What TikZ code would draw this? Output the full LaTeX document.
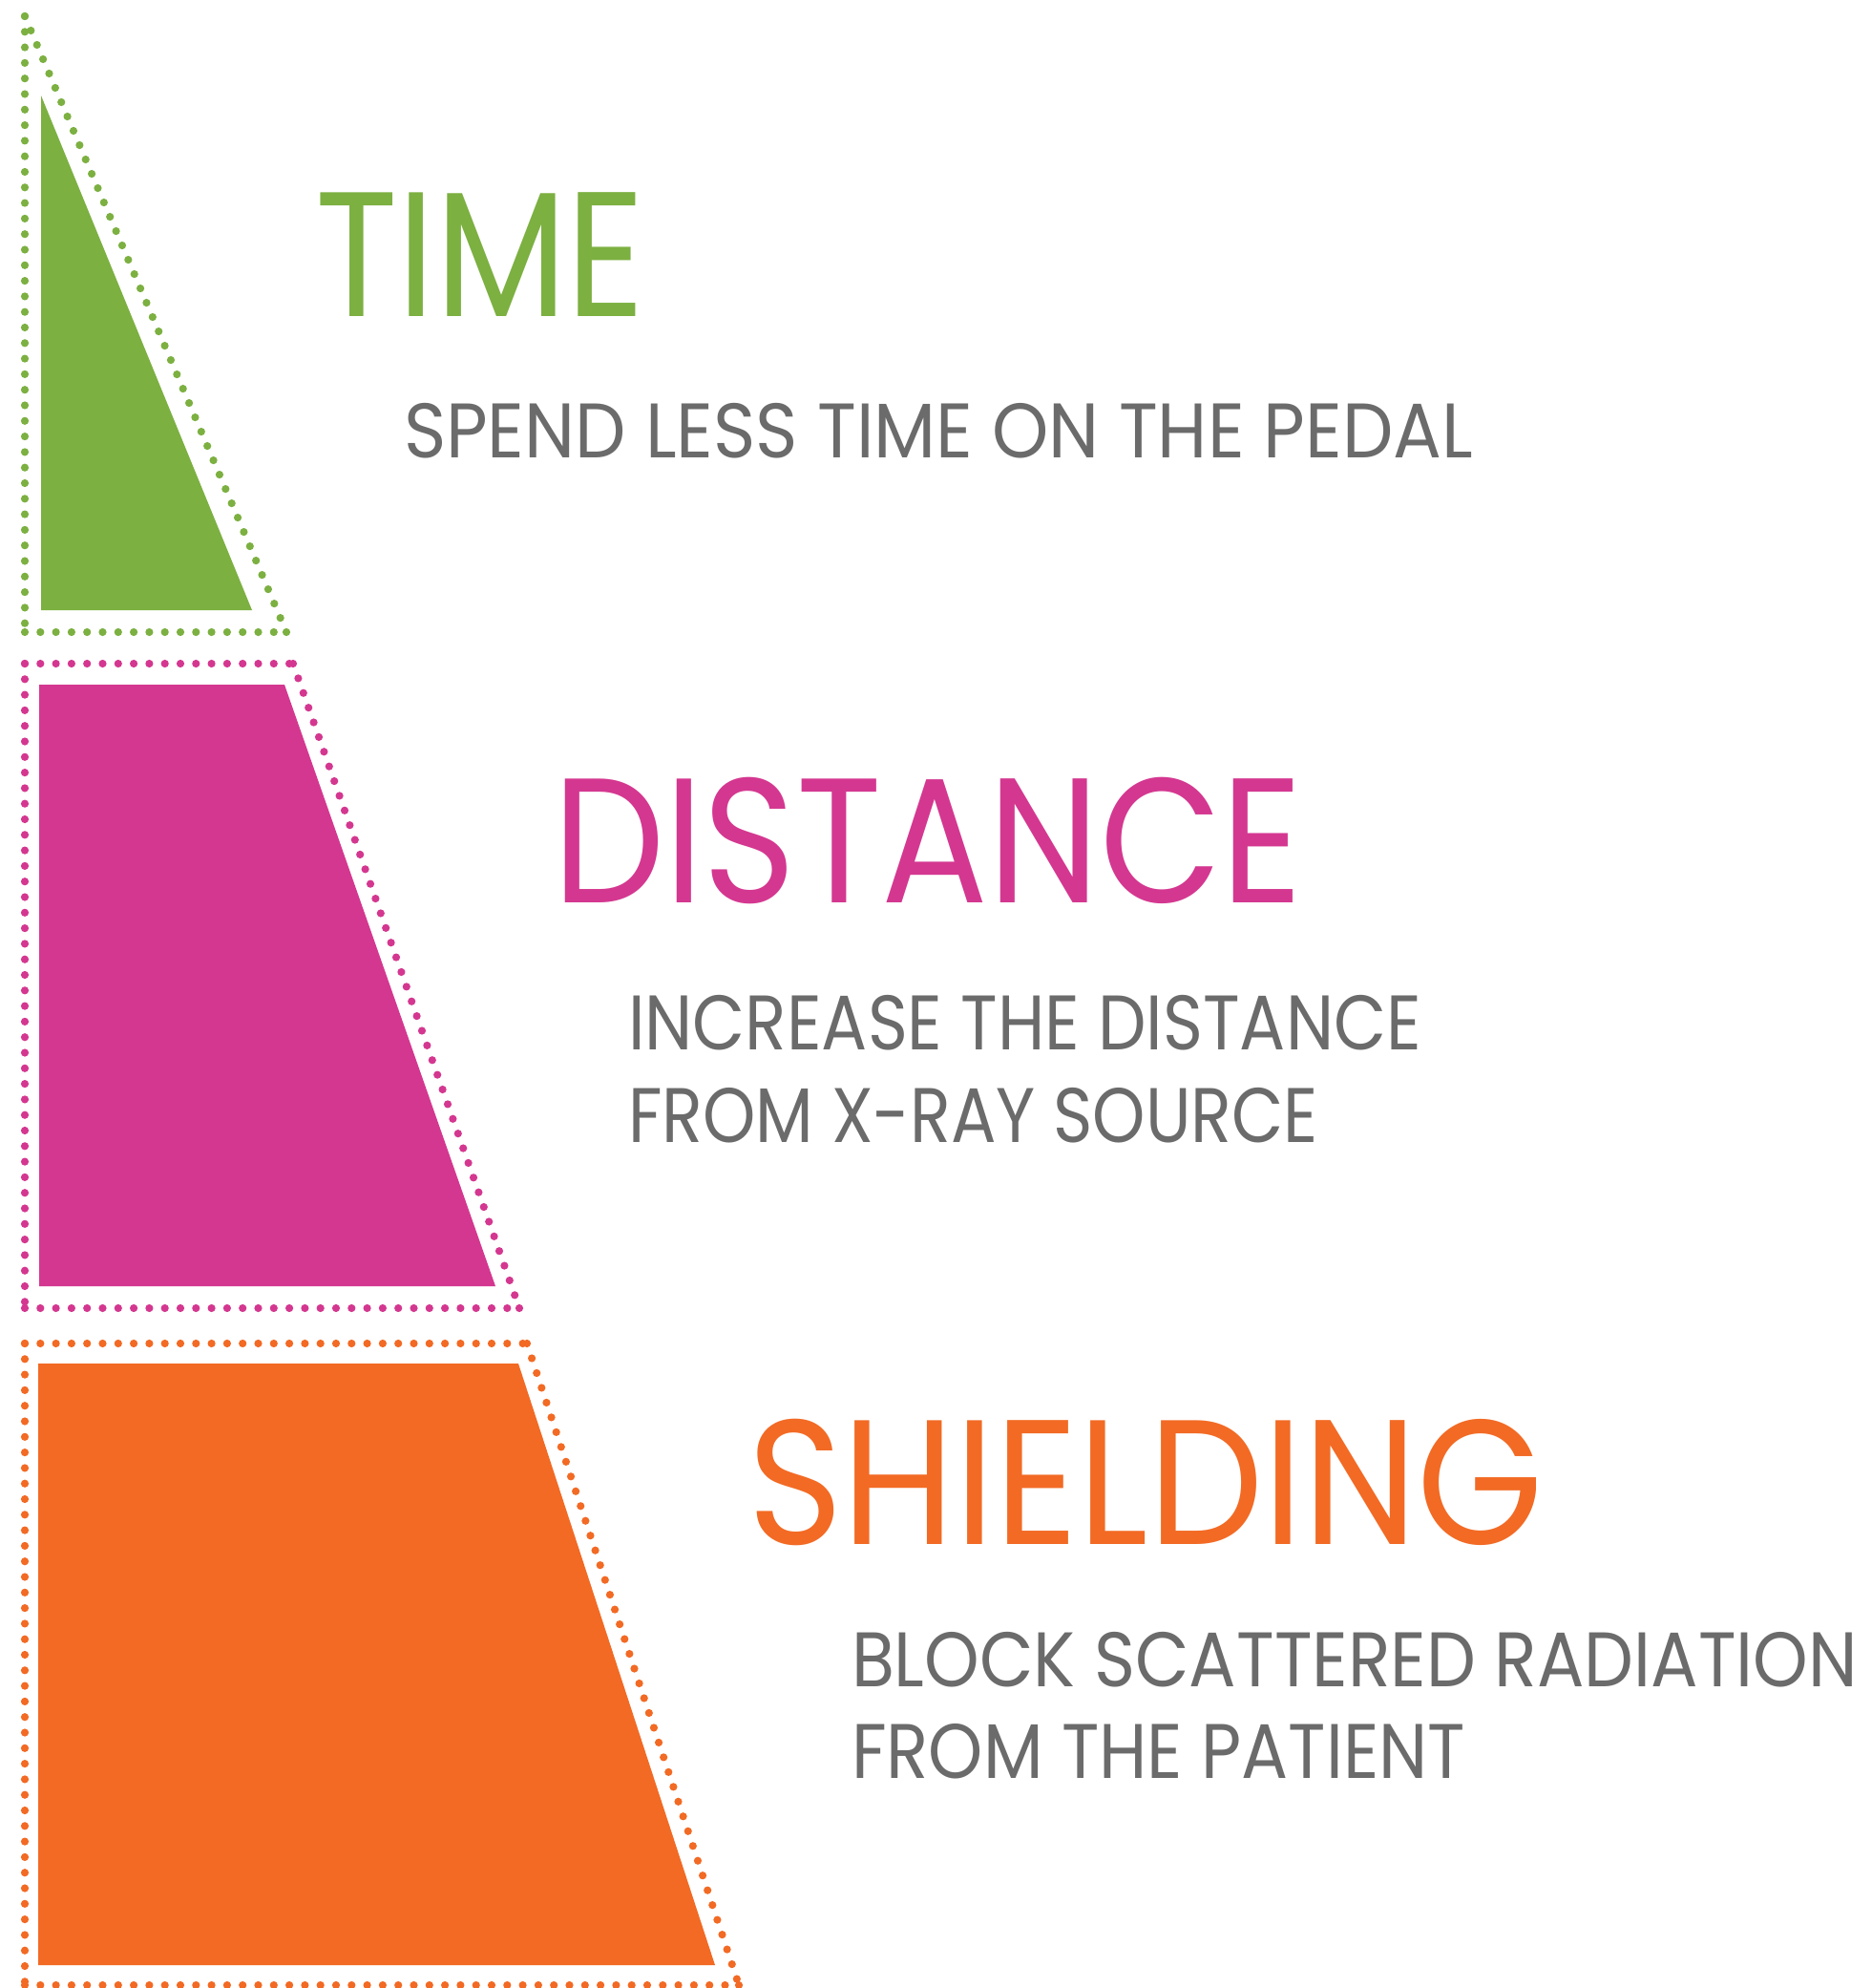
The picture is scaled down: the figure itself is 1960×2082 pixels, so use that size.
\documentclass[tikz,border=0pt]{standalone}
\usepackage{fontspec}
\setmainfont{Poppins}
\usepackage{graphicx}
\definecolor{tgreen}{RGB}{124,176,65}
\definecolor{tpink}{RGB}{212,55,144}
\definecolor{torange}{RGB}{242,106,36}
\definecolor{tgray}{RGB}{107,107,107}
\newcommand\fitw[2]{\resizebox{#1}{\height}{#2}}
\begin{document}
\begin{tikzpicture}[x=0.5pt,y=-0.5pt,
  dots/.style={line width=4.1pt, line cap=round, dash pattern=on 0pt off 8.15pt},
  cornerdot/.style={radius=2.05pt},
  title/.style={anchor=base west, inner sep=0pt, outer sep=0pt, font=\fontsize{93}{100}\selectfont},
  sub/.style={anchor=base west, inner sep=0pt, outer sep=0pt, font=\fontsize{40.5}{48}\selectfont, text=tgray}]
\useasboundingbox (0,0) rectangle (1960,2082);
\fill[white] (0,0) rectangle (1960,2082);
% TIME block
\fill[tgreen] (43,100) -- (43,639) -- (264,639) -- cycle;
\draw[dots,tgreen] (26,17) -- (26,662);
\draw[dots,tgreen] (26,662) -- (300,662);
\draw[dots,tgreen] (26,17) -- (300,662);
\fill[tgreen] (300,662) circle[cornerdot];
% DISTANCE block
\fill[tpink] (41,717) -- (298,717) -- (519,1347) -- (41,1347) -- cycle;
\draw[dots,tpink] (26,695) -- (307,695);
\draw[dots,tpink] (307,695) -- (544,1370);
\draw[dots,tpink] (26,1370) -- (544,1370);
\draw[dots,tpink] (26,695) -- (26,1370);
\fill[tpink] (544,1370) circle[cornerdot];
% SHIELDING block
\fill[torange] (40,1428) -- (543,1428) -- (749,2058) -- (40,2058) -- cycle;
\draw[dots,torange] (26,1407) -- (552,1407);
\draw[dots,torange] (552,1407) -- (774,2079);
\draw[dots,torange] (26,2079) -- (774,2079);
\draw[dots,torange] (26,1407) -- (26,2079);
\fill[torange] (774,2079) circle[cornerdot];
% texts
\node[title,text=tgreen] (time) at (330,331) {\fitw{173pt}{TIME}};
\node[sub] (timesub) at (423,479) {\fitw{560pt}{SPEND LESS TIME ON THE PEDAL}};
\node[title,text=tpink] (dist) at (579,945) {\fitw{393pt}{DISTANCE}};
\node[sub] (distsubA) at (658,1099) {\fitw{415.5pt}{INCREASE THE DISTANCE}};
\node[sub] (distsubB) at (658,1196) {\fitw{361.5pt}{FROM X-RAY SOURCE}};
\node[title,text=torange] (shield) at (783,1617) {\fitw{417pt}{SHIELDING}};
\node[sub] (shieldsubA) at (892,1766) {\fitw{527pt}{BLOCK SCATTERED RADIATION}};
\node[sub] (shieldsubB) at (892,1862) {\fitw{321.5pt}{FROM THE PATIENT}};
\end{tikzpicture}
\end{document}
